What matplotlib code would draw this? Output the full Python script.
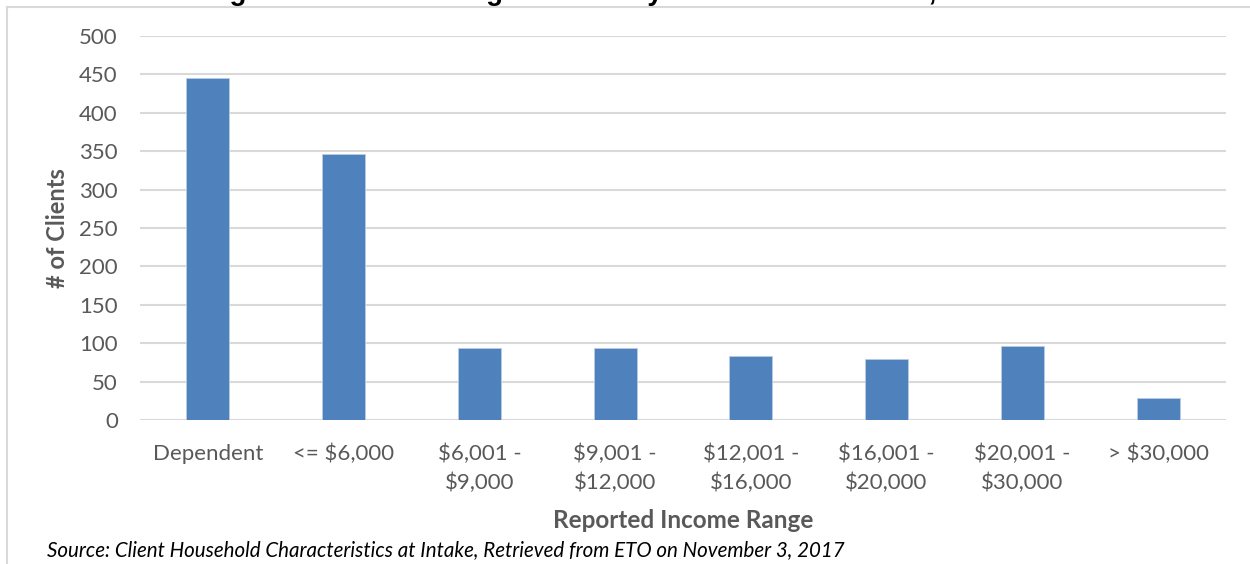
import numpy as np
import matplotlib.pyplot as plt
from matplotlib.lines import Line2D

plt.rcParams['font.family'] = ['Lato', 'DejaVu Sans']

# data
categories = ['Dependent', '<= $6,000', '$6,001 -\n$9,000', '$9,001 -\n$12,000',
              '$12,001 -\n$16,000', '$16,001 -\n$20,000', '$20,001 -\n$30,000', '> $30,000']
clients = [445, 347, 94, 94, 83, 80, 96, 28]
yticks = [0, 50, 100, 150, 200, 250, 300, 350, 400, 450, 500]

title = 'Figure 5: Income Ranges of Family Intervention Clients, 2017'
source = 'Source: Client Household Characteristics at Intake, Retrieved from ETO on November 3, 2017'

W, H = 1250, 564
fig = plt.figure(figsize=(W / 100, H / 100), dpi=100)
ax = fig.add_axes([140 / W, 1 - 420 / H, (1226 - 140) / W, (420 - 36) / H])

x = np.arange(len(categories))
ax.bar(x, clients, width=0.317, color='#4f81bd', edgecolor='#b8cce4', linewidth=0.6, zorder=3)

ax.set_xlim(-0.5, len(categories) - 0.5)
ax.set_ylim(0, 500)
ax.set_yticks(yticks)
ax.set_xticks(x)
ax.set_xticklabels(categories, linespacing=1.5)
ax.grid(axis='y', color='#d9d9d9', linewidth=1.5, zorder=0)
for s in ax.spines.values():
    s.set_visible(False)
ax.tick_params(axis='both', length=0, colors='#595959', labelsize=16)
ax.tick_params(axis='y', pad=16)
ax.tick_params(axis='x', pad=17)

fig.text(57.5 / W, 1 - 228 / H, '# of Clients', rotation=90, ha='center', va='center',
         fontsize=17, fontweight='bold', color='#595959')
fig.text(683 / W, 1 - 520 / H, 'Reported Income Range', ha='center', va='center',
         fontsize=17.5, fontweight='bold', color='#595959')
fig.text(47 / W, 1 - 550 / H, source, ha='left', va='center', fontsize=14.8, style='italic')

# title sits mostly above the cropped top edge
fig.text(605 / W, 1.0, title, ha='center', va='baseline', fontsize=19.9, fontweight='bold',
         family=['Liberation Sans', 'DejaVu Sans'])

# chart border
fig.add_artist(Line2D([6.5 / W, 6.5 / W], [0, 1 - 7 / H], color='#d9d9d9', linewidth=1.5))
fig.add_artist(Line2D([6.5 / W, 1], [1 - 7 / H, 1 - 7 / H], color='#d9d9d9', linewidth=1.5))

fig.savefig('out.png', dpi=100)
